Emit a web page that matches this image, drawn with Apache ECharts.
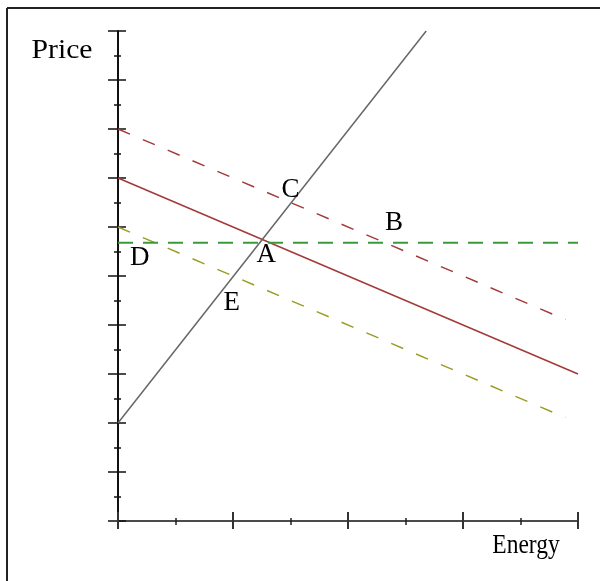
<!DOCTYPE html>
<html>
<head>
<meta charset="utf-8">
<script src="https://cdn.jsdelivr.net/npm/echarts@6/dist/echarts.min.js"></script>
<style>html,body{margin:0;padding:0;background:#fff;}#c{width:600px;height:581px;}</style>
</head>
<body>
<div id="c"></div>
<script>
// ---- data (axis units: energy 0..4, price 0..10) ----
const supplyX = [0, 2.68];
const supplyY = [2, 10];
const demandX = [0, 4];
const demandY = [7, 3];
const demandHighX = [0, 3.89];
const demandHighY = [8, 4.11];
const priceLevelX = [0, 4];
const priceLevelY = [5.68, 5.68];
const demandLowX = [0, 3.89];
const demandLowY = [6, 2.11];
const pointNames = ['A', 'B', 'C', 'D', 'E'];
const pointX = [1.29, 2.40, 1.50, 0.19, 0.99];
const pointY = [5.43, 6.08, 6.76, 5.37, 4.45];
const xAxisTitle = 'Energy';
const yAxisTitle = 'Price';

const zip = (xs, ys) => xs.map((x, i) => [x, ys[i]]);
const serif = '"Liberation Serif", "DejaVu Serif", serif';

function lineSeries(xs, ys, color, width, dash) {
  return {
    type: 'line', data: zip(xs, ys), showSymbol: false, symbol: 'none',
    lineStyle: { color: color, width: width, type: dash || 'solid' },
    silent: true, z: 3
  };
}

const chart = echarts.init(document.getElementById('c'), null, { renderer: 'canvas' });
const axisCommon = {
  type: 'value', min: 0, splitLine: { show: false }, axisLabel: { show: false }
};
chart.setOption({
  animation: false,
  backgroundColor: '#fff',
  grid: { left: 118, top: 31, width: 460, height: 490 },
  xAxis: [
    Object.assign({}, axisCommon, {
      max: 4, interval: 1,
      axisLine: { show: true, onZero: false, lineStyle: { color: '#111', width: 1.5 } },
      axisTick: { show: true, inside: false, length: 8, lineStyle: { color: '#333', width: 2 } },
      minorTick: { show: true, splitNumber: 2, length: 4, lineStyle: { color: '#222', width: 1.5 } }
    }),
    Object.assign({}, axisCommon, {
      max: 4, interval: 1, position: 'bottom',
      axisLine: { show: false },
      axisTick: { show: true, inside: true, length: 9, lineStyle: { color: '#333', width: 2 } },
      minorTick: { show: true, splitNumber: 2, length: 3, lineStyle: { color: '#222', width: 1.5 } }
    })
  ],
  yAxis: [
    Object.assign({}, axisCommon, {
      max: 10, interval: 1,
      axisLine: { show: true, onZero: false, lineStyle: { color: '#111', width: 2 } },
      axisTick: { show: true, inside: false, length: 10, lineStyle: { color: '#111', width: 1.5 } },
      minorTick: { show: true, splitNumber: 2, length: 4, lineStyle: { color: '#111', width: 1.5 } }
    }),
    Object.assign({}, axisCommon, {
      max: 10, interval: 1, position: 'left',
      axisLine: { show: false },
      axisTick: { show: true, inside: true, length: 8, lineStyle: { color: '#111', width: 1.5 } },
      minorTick: { show: true, splitNumber: 2, length: 3, lineStyle: { color: '#111', width: 1.5 } }
    })
  ],
  series: [
    lineSeries(demandHighX, demandHighY, '#a33a3a', 1.5, [13, 14]),
    lineSeries(demandX, demandY, '#a33a3a', 1.5),
    lineSeries(demandLowX, demandLowY, '#9c9c22', 1.5, [13, 14]),
    lineSeries(priceLevelX, priceLevelY, '#3a9a3a', 2, [15, 10]),
    lineSeries(supplyX, supplyY, '#666666', 1.5),
    {
      type: 'scatter', symbolSize: 0, silent: true, z: 5,
      itemStyle: { opacity: 1 },
      data: pointNames.map((n, i) => ({ name: n, value: [pointX[i], pointY[i]] })),
      label: {
        show: true, position: 'inside', formatter: p => p.name,
        fontFamily: serif, fontSize: 27, color: '#000', opacity: 1,
        textBorderWidth: 0, textBorderColor: 'transparent'
      }
    }
  ],
  graphic: [
    { type: 'line', shape: { x1: 7, y1: 8, x2: 600, y2: 8 }, style: { stroke: '#222', lineWidth: 2 } },
    { type: 'line', shape: { x1: 7, y1: 8, x2: 7, y2: 581 }, style: { stroke: '#222', lineWidth: 2 } },
    { type: 'text', x: 62, y: 51, scaleX: 1.1,
      style: { text: yAxisTitle, fontFamily: serif, fontSize: 27, fill: '#000', textAlign: 'center', textVerticalAlign: 'middle' } },
    { type: 'text', x: 526, y: 546, scaleX: 0.87,
      style: { text: xAxisTitle, fontFamily: serif, fontSize: 27, fill: '#000', textAlign: 'center', textVerticalAlign: 'middle' } }
  ]
});
</script>
</body>
</html>
